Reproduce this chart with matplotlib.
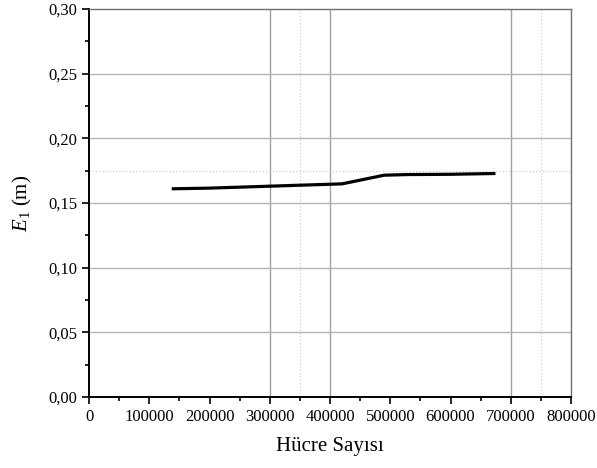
import numpy as np
import matplotlib
matplotlib.use('Agg')
import matplotlib.pyplot as plt
from matplotlib.ticker import MultipleLocator, FuncFormatter

hucre_sayisi = [140000, 200000, 300000, 420000, 490000, 530000, 600000, 672000]
e1_degerleri = [0.161, 0.1615, 0.163, 0.1648, 0.1715, 0.172, 0.1722, 0.1728]

grid_x_ana = [300000, 400000, 700000]
grid_x_ara = [350000, 750000]
grid_y_ana = [0.05, 0.10, 0.15, 0.20, 0.25]
grid_y_ara = [0.175]

plt.rcParams['font.family'] = ['Liberation Serif', 'DejaVu Serif']
plt.rcParams['mathtext.fontset'] = 'custom'
plt.rcParams['mathtext.it'] = 'Liberation Serif:italic'
plt.rcParams['mathtext.rm'] = 'Liberation Serif'

fig = plt.figure(figsize=(5.97, 4.68), dpi=100)
ax = fig.add_axes([89/597, 1 - 397/468, (571-89)/597, (397-9)/468])

for x in grid_x_ana:
    ax.axvline(x, color='#a0a0a0', linewidth=1.0, zorder=1)
for x in grid_x_ara:
    ax.axvline(x, color='#c8c8c8', linewidth=0.8, linestyle=(0, (1, 2)), zorder=1)
for y in grid_y_ana:
    ax.axhline(y, color='#b4b4b4', linewidth=1.0, zorder=1)
for y in grid_y_ara:
    ax.axhline(y, color='#c8c8c8', linewidth=0.8, linestyle=(0, (1, 2)), zorder=1)

ax.plot(hucre_sayisi, e1_degerleri, color='black', linewidth=2.3, zorder=3)

ax.set_xlim(0, 800000)
ax.set_ylim(0, 0.30)
ax.xaxis.set_major_locator(MultipleLocator(100000))
ax.xaxis.set_minor_locator(MultipleLocator(50000))
ax.yaxis.set_major_locator(MultipleLocator(0.05))
ax.yaxis.set_minor_locator(MultipleLocator(0.025))
ax.yaxis.set_major_formatter(FuncFormatter(lambda v, p: f'{v:.2f}'.replace('.', ',')))
ax.xaxis.set_major_formatter(FuncFormatter(lambda v, p: f'{int(round(v))}'))

ax.tick_params(which='major', direction='out', length=5, width=1.2, labelsize=12, color='black')
ax.tick_params(which='minor', direction='out', length=3, width=1.2, color='black')
ax.tick_params(top=False, right=False)

ax.spines['left'].set_linewidth(1.4)
ax.spines['bottom'].set_linewidth(1.4)
ax.spines['top'].set_color('#707070')
ax.spines['right'].set_color('#707070')
ax.spines['top'].set_linewidth(1.0)
ax.spines['right'].set_linewidth(1.0)

ax.set_xlabel('Hücre Sayısı', fontsize=15, labelpad=9)
ax.set_ylabel(r'$E_1$ (m)', fontsize=15, labelpad=10)

fig.savefig('out.png', dpi=100)
